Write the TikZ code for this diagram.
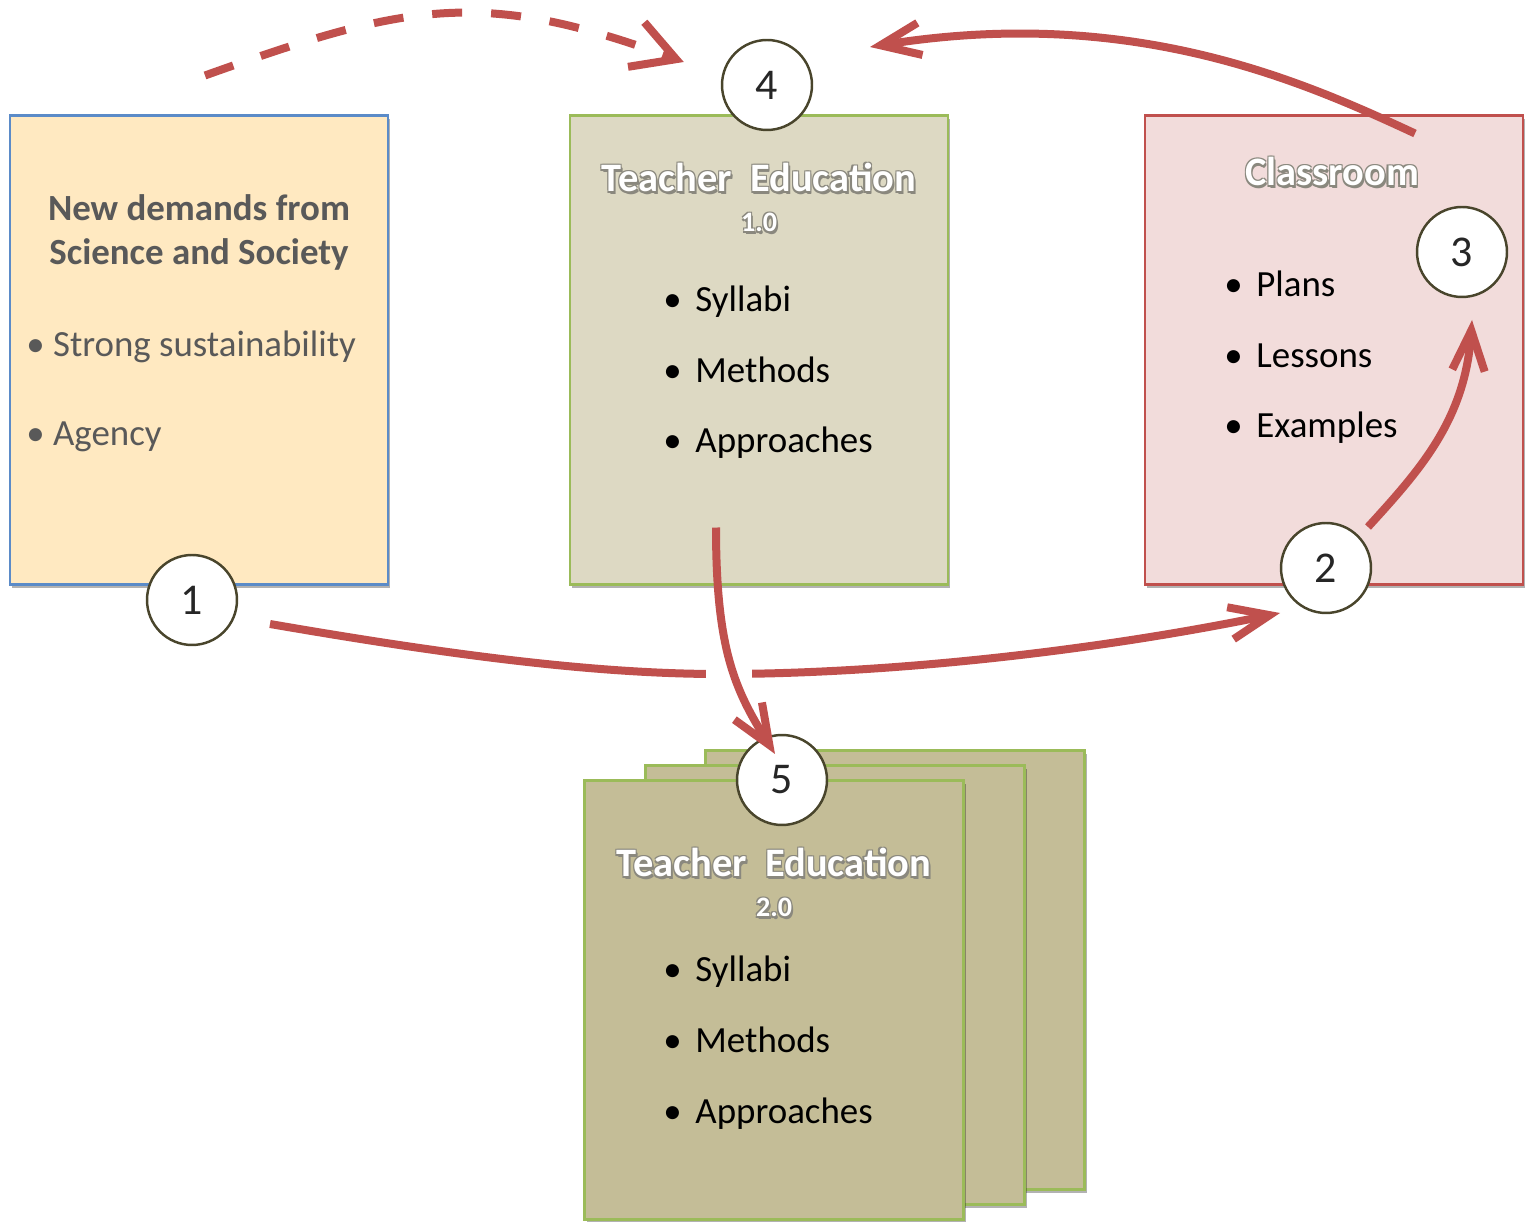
\documentclass[tikz,border=0pt]{standalone}
\usepackage{fontspec}
\setmainfont{Carlito}
\usetikzlibrary{arrows.meta,shadows}
\definecolor{demandfill}{HTML}{FFE9C1}
\definecolor{demandrule}{HTML}{5B8BC8}
\definecolor{tefill}{HTML}{DDD9C3}
\definecolor{terule}{HTML}{9BBB59}
\definecolor{roomfill}{HTML}{F2DCDB}
\definecolor{roomrule}{HTML}{C0504D}
\definecolor{stackfill}{HTML}{C4BD97}
\definecolor{linkc}{HTML}{C0504D}
\definecolor{ringc}{HTML}{49452C}
\definecolor{numc}{HTML}{262626}
\definecolor{greytext}{HTML}{595959}
\definecolor{glowc}{HTML}{8A887E}
\newcommand{\bodyfont}{\fontsize{21}{25}\selectfont}
\newcommand{\headfont}{\fontsize{21}{25}\selectfont\bfseries}
\newcommand{\titlefont}{\fontsize{23}{28}\selectfont\bfseries}
\newcommand{\versionfont}{\fontsize{16}{20}\selectfont\bfseries}
\newcommand{\numfont}{\fontsize{25}{30}\selectfont}
\newcommand{\bul}{\makebox[0.87em][l]{\textbullet}}
\newcommand{\glowtext}[1]{{\leavevmode
  \rlap{\textcolor{glowc}{\hspace{0.6pt}\raisebox{-0.6pt}{#1}}}%
  \rlap{\textcolor{glowc}{\hspace{-0.6pt}\raisebox{-0.6pt}{#1}}}%
  \rlap{\textcolor{glowc}{\hspace{0.6pt}\raisebox{0.6pt}{#1}}}%
  \rlap{\textcolor{glowc}{\hspace{-0.6pt}\raisebox{0.6pt}{#1}}}%
  \rlap{\textcolor{glowc}{\hspace{1pt}\raisebox{-1.4pt}{#1}}}%
  \textcolor{white}{#1}}}

\begin{document}
\begin{tikzpicture}[x=0.02cm, y=-0.02cm,
  card/.style={draw, line width=1.2pt, inner sep=0pt,
    minimum width=7.56cm, minimum height=9.38cm,
    drop shadow={shadow xshift=1.2pt, shadow yshift=-1.8pt, opacity=0.3, fill=black}},
  sheet/.style={card, fill=stackfill, draw=terule, minimum width=7.58cm, minimum height=8.78cm},
  item/.style={anchor=base west, inner sep=0pt, font=\bodyfont},
  title/.style={anchor=base, inner sep=0pt, font=\titlefont},
  circ/.style={circle, draw=ringc, fill=white, line width=1.4pt, minimum size=1.8cm,
    inner sep=0pt, font=\numfont, text=numc},
  link/.style={draw=linkc, line width=0.16cm, -{Straight Barb[length=0.8cm, width=0.65cm]}}]
\useasboundingbox (0,0) rectangle (1529,1222);

% boxes
\node[card, fill=demandfill, draw=demandrule] (demands) at (199,350) {};
\node[card, fill=tefill, draw=terule] (te1) at (759,350) {};
\node[card, fill=roomfill, draw=roomrule] (room) at (1334,350) {};
\node[sheet] (te2c) at (895,970) {};
\node[sheet] (te2b) at (835,985) {};
\node[sheet] (te2) at (774,1000) {};

% texts
\node[anchor=base, inner sep=0pt, font=\headfont, text=greytext] (dhead1) at (199,221) {New demands from};
\node[anchor=base, inner sep=0pt, font=\headfont, text=greytext] (dhead2) at (199,265) {Science and Society};
\node[item, text=greytext] (d1) at (26,357) {\textbullet{} Strong sustainability};
\node[item, text=greytext] (d2) at (26,446) {\textbullet{} Agency};

\node[title] (te1head) at (759,192) {\glowtext{Teacher\ \ Education}};
\node[anchor=base, inner sep=0pt, font=\versionfont] (te1ver) at (759,232) {\glowtext{1.0}};
\foreach \txt [count=\i] in {Syllabi,Methods,Approaches}
  \node[item] (te1-\i) at (663,241.5+70.5*\i) {\bul\txt};

\node[title] (roomhead) at (1332,186) {\glowtext{Classroom}};
\foreach \txt [count=\i] in {Plans,Lessons,Examples}
  \node[item] (room-\i) at (1224,226.5+70.5*\i) {\bul\txt};

\node[title] (te2head) at (774,877) {\glowtext{Teacher\ \ Education}};
\node[anchor=base, inner sep=0pt, font=\versionfont] (te2ver) at (774,917) {\glowtext{2.0}};
\foreach \txt [count=\i] in {Syllabi,Methods,Approaches}
  \node[item] (te2-\i) at (663,911.5+70.5*\i) {\bul\txt};

% numbered steps
\node[circ] (c1) at (192,600) {1};
\node[circ] (c2) at (1326,568) {2};
\node[circ] (c3) at (1462,252) {3};
\node[circ] (c4) at (767,85) {4};
\node[circ] (c5) at (782,780) {5};

% connectors
\draw[link, -{Straight Barb[length=0.85cm, width=0.95cm]}, dash pattern=on 0.6cm off 0.58cm]
  ([shift={(6,-39)}]demands.north)
  .. controls (408,3) and (482,-12) .. ([shift={(-37,-23)}]c4.west);
\draw[link] ([shift={(81,19)}]room.north)
  .. controls (1300,80) and (1130,5) .. ([shift={(103,-38)}]c4.center);
\draw[link] ([shift={(78,24)}]c1.center)
  .. controls (450,655) and (600,675) .. (730,674)
  .. controls (900,673) and (1100,650) .. ([shift={(-46,45)}]c2.center);
\fill[white] (706,655) rectangle (752,692);
\draw[link] ([shift={(-43,-58)}]te1.south)
  .. controls (716,650) and (735,690) .. ([shift={(-7,-26)}]c5.center);
\draw[link] ([shift={(42,-41)}]c2.center)
  .. controls (1420,470) and (1465,420) .. ([shift={(10,68)}]c3.center);
\end{tikzpicture}
\end{document}
